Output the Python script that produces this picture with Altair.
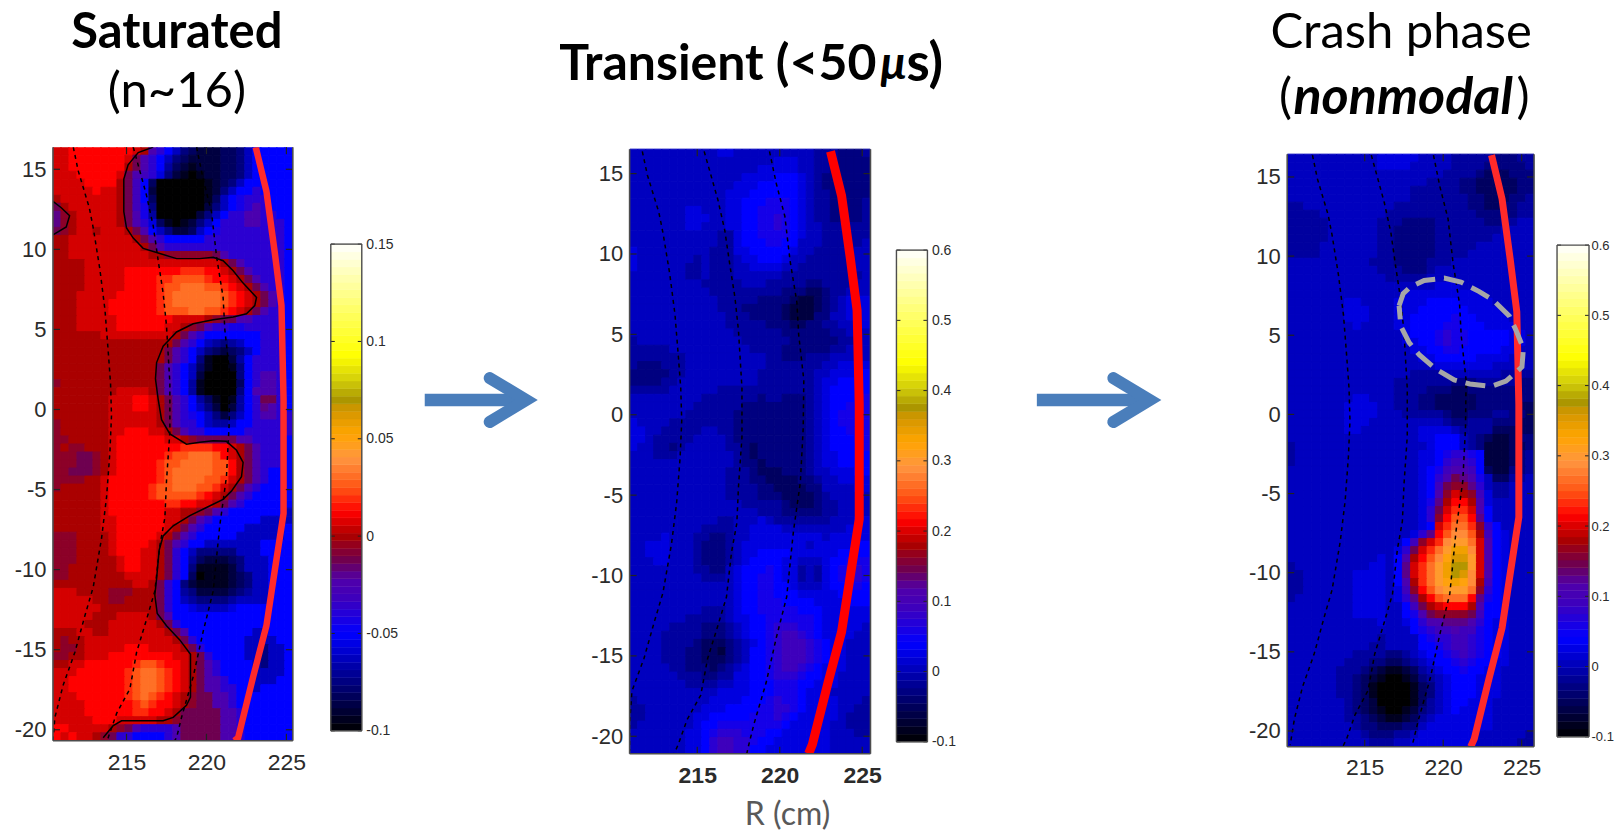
import altair as alt
import pandas as pd

# Colour-map stops (fraction of the colour bar) and their colours
CMAP_STOPS = [0, .2, .27, .31, .35, .40, .45, .50, .56, .61, .66, .68, .72, .77, .89, .98, 1]
CMAP_COLORS = ["#000000", "#0000ff", "#3c00be", "#5000aa", "#6e0050", "#aa0000", "#ff0000", "#ff5514", "#ff9640",
               "#ffa500", "#d29600", "#aa9600", "#d2cd0a", "#ffff00", "#ffff82", "#ffffe6", "#ffffff"]
BAR_LEVELS = 64

# Heat maps: one base-36 digit per cell = colour-bar level in 1/40ths, top row first, left column first
SATURATED = """
hhiiii iiiihg ca8643 222334 688888
hhiiii iiihec a86432 222334 688888
hhiiii iiigec a85321 222334 688888
hhhiii iihecb a74210 122334 688888
hhhhii iigeb8 300000 012346 888888
hhhhhi hhgeb8 200000 012468 8a8888
ghhhhh hhgeb8 300000 013689 aaa888
eghhhh hhgeb9 400000 024689 aca888
dfghhh hhgec9 500000 2468aa ccaa88
dfghhh hhgeca 731012 468aaa ccaaa8
efghhg hhhgec 864223 689aaa aaaaa8
gghhhh hhhhge ca8888 8aaaaa aaaaa8
gghhhh hhhhhg ecaaaa aaaaaa aaaaa8
gghhhh hhhhhh ggffff ffecaa aaaaa8
gggghh hhhhhh hhhhhh hhhgec aaaaa8
gggghh hhhiii iiiijj jiihge caaaa8
gggghh hhhiii ijjkkk kjiihg ecaaa8
gggghh hhhiii ijkkll lkkjih gecaa8
ggghhh hhiiii ijklll lllkji hgeca8
ggghhh hiiiii ijklll lllkji hgeca8
ggghhh hiiiii ijkkkl lkkjih gecaa8
ggghhh hhiiii iiihhh hgfeec caaaa8
ggghhh hhiiii iihhgf ecaa99 aaaaa8
gggggg hhhhhh hhhgec a88888 88aaa8
gggggg gggggg gggeca 865456 88aaa8
gggggg gggggg ggeca8 643234 68aaa8
gggggg gggggg ggeca8 410025 8aaaa8
gggggg gggggg geca86 310014 8aaaa8
gggggg gggggg geca86 200004 8acca8
fggggg gggggg geca85 100003 8acca8
gggggg gghhhh geca85 100004 8ccca8
gggggg ghhhii hgeca8 531015 8aeea8
gggggg ghhhii hgeca8 642025 8adca8
gggggg ghhhhh hgeca9 864246 8accaa
fggggg ghhhhh hgecaa 865568 8aaaaa
fggggg ghhiii hhgeca a88888 aaaaaa
ffgggg ghiiii iihhgf eeeeec caaaa8
fgffgg ghiiii iiiijj jjiihg ecaaa8
fffeef ghiiii iijkkl llkihg ecaaa8
fffeef ghiiii ijkkll llkkig ecaaa8
ffeeef ghiiii ijklll llkkig eca888
ffffgg hiiiii ijklll lkkjhg eca888
fggggg hiiiii jkklll kkjhge ca8888
gggggg hiiiii jkkkkk jihgec a88888
gggggg hiiiii iijjii hhgeca 888888
gggggg hiiiii iihhgg feca88 888886
gggggg hhiiii iihhge ca8888 886666
gggggg hhiiii iihgec a88888 666668
fffggg ghiiii ihgeca 888886 666668
fffggg ghiiii hgeca8 866666 668888
fffggg ghiiih hgea86 444446 668888
fffggg gghiih hgea85 322234 666888
ffgggg gghiih hgea84 111124 666888
ffgggg ggghhh hgea83 011123 466888
gggggg gggghh gea842 111123 466888
hhhggg gfffgg gea854 222234 566888
hhhhhg gffggg gea865 444456 666888
hhhhhh gggggg gea887 666678 888888
hhhhhg gghhhh gec888 888888 888888
hhhhgg ghhhhh hgea88 888888 888888
ggghhg ghhhhh hhgec8 888888 866888
gfgghh hhhhhh hhhgea 888888 666688
gffghh hhhiii hhhhge a88888 664668
ffgghh hiiiii iiihhg ea8888 664668
gghhii iiiijk kjiihg eca888 864668
hhhiii iiijkl lkjihg eca888 866668
hhiiii iiijkl lkjihg ecca88 866688
hhiiii iiijkl lkjihg eccaa8 868888
hhhiii iiijkl kjihgf eecca8 888888
hhhhii iiiijk jiihgf eecca8 888888
hhhhii iiiijj iihgee eeecca 888888
hhhhhi iihhhh hggfee eeecca 888888
iihhhh hgfeca aaacee eeecca 888888
ihihhg feaa88 88acee eeecca 888888
"""

TRANSIENT = """
666666 666667 766666 666665 554445
666666 666666 666666 777665 554444
666666 666666 666677 777665 544444
666666 666666 667777 888765 444444
666666 666666 677788 888765 444444
666666 666666 777888 888765 544444
666666 666666 778889 998765 544445
666666 677666 778899 998765 544445
666666 677766 778899 a98765 544445
666666 677666 778899 a98766 555555
666666 666665 578899 998766 555555
666666 666665 578889 988666 555556
766666 666655 577888 887665 555566
766666 665655 567788 876655 555566
766666 655655 566777 766555 555566
666666 655655 566666 655555 555556
666666 666555 556665 555544 555566
666666 666655 555555 544433 455666
666666 666665 555544 443223 456777
666666 666665 554444 432223 456777
666666 666666 555444 432224 466777
666666 666666 555554 443344 556677
666666 666666 655555 544444 455666
566666 666666 665555 554444 445566
555556 666666 666555 544444 455666
555555 566666 666665 544455 566666
544455 566666 666665 555555 667777
444445 566666 666655 555556 677788
444455 666666 666655 555556 778888
555556 666665 555555 555556 788888
666666 666555 555545 544456 788899
666666 665555 554444 444456 788999
666666 655555 544444 444456 789999
766665 555555 544444 444456 789999
776655 555665 544444 444456 788999
776555 556666 544444 444456 788899
766554 566666 554344 444456 788889
666555 666666 654344 444456 778888
666666 666666 654434 444456 778888
666666 666666 555433 344456 677788
666666 666666 555443 333445 667777
666666 666666 555544 333344 666677
666666 666666 555544 433334 566666
666666 666666 665555 543334 556666
666666 666666 666655 544444 556666
666666 666665 566676 555555 566677
666666 666555 566777 766666 666777
666676 665544 566777 777777 677777
667776 665444 567777 777767 777788
667776 665444 567788 887777 778888
666776 665444 567888 877666 788999
666666 665544 678889 877565 789aa9
666666 666555 678899 877565 789aa9
666666 666666 678899 887666 788998
666666 666666 678899 888777 778888
666666 666666 678899 988887 777888
666666 666555 678899 999888 777777
666666 655555 677889 999998 777777
666665 555444 567889 aaa998 777776
666655 555444 567889 abba98 777766
666655 554333 456789 abbba9 877666
666655 544332 456889 abbba9 877666
666655 544333 456889 abbba9 877666
666665 544434 567889 abba98 777666
666666 555445 577889 aaa988 776666
666666 655556 677888 999887 776666
666666 666667 777888 999877 766666
566666 666677 778889 a99877 776665
556666 666777 888899 aa9877 776655
556666 667788 888999 a98777 776555
566666 667889 999999 987777 766555
666666 67789a aa9998 877777 766655
666666 6778ab baa988 777777 766666
666666 6778ab baa887 777777 766666
"""

CRASH = """
666666 666667 777766 665555 544455
666666 666667 777666 665555 444445
666666 666666 666666 655554 333444
666666 666666 666665 555443 333344
666666 666666 666555 555443 333344
666666 666666 666555 555544 333445
556666 666666 655555 555544 334455
555566 666666 555555 555554 444455
555556 666665 554444 555555 445566
555556 666665 544444 555555 556666
555556 666665 544444 555555 566666
555566 666665 544444 555556 666666
555566 666665 544444 555566 666666
666666 666655 544445 556666 666666
666666 666665 554445 666666 666666
666666 666666 555556 666666 666666
666666 666666 666666 777666 666666
666666 666666 667777 777777 666666
666666 677666 677778 888777 766666
666666 677766 677788 888877 776666
666666 677766 677888 889887 777666
666666 667666 677888 899888 777766
666666 666666 667888 9a9988 888776
666666 666666 667788 9a9988 888776
666666 666666 666778 899888 887766
666666 666666 666677 888887 777666
666666 666666 666666 777777 766666
666666 666666 666555 566666 665555
666666 666666 655555 554445 555544
666666 666666 655554 443344 444444
666666 667766 655544 333334 444444
666666 677776 655544 333334 444433
666666 677776 665555 543344 455443
666666 677766 666666 654455 544433
666666 677666 666677 776555 533333
666666 666666 666677 888654 322344
566666 666666 666667 888654 222334
566666 666666 666677 89aa98 222345
566666 666666 666677 8abba8 222345
666666 666666 666678 9bccb8 322445
666666 666666 666678 acedc9 633556
666666 666666 666678 beffda 655666
666666 666666 666678 cfhgfb 755666
666666 666666 666679 dgiigc 766666
666666 666666 66667a ehjjhc 866666
666666 666666 66667a fikkid 866666
666666 666666 666678 hjlljf a86666
666666 666666 6667ad ikmmkg b87666
666666 666666 668bfh jmnnlh c87666
666666 666666 67aehj lnppmh c87666
666666 666667 68cgik moqqnh c87666
566666 666677 68dhjl nprrnh c87666
556666 667777 68dhjl nprqmh c87666
556666 667777 68cgjl nopomg b87666
556666 667777 67bfik mnnnlf a87666
566666 667777 67adgi klllid 987666
666666 667777 668beg hiiigc 887666
666666 667777 6689ce ffffeb 887666
666666 666667 6678ac cdddca 877666
666666 666666 66689a bbcbb9 877666
666666 666665 666689 aabba9 877666
666666 666655 666688 9abba9 877666
666666 665555 445678 89aba9 887666
666666 655544 334567 889a98 877666
666666 555432 112356 788988 776666
666666 554321 001245 678887 776666
666666 554310 000134 678887 776666
666666 554310 000134 678887 776666
666666 654320 000135 678877 766666
666666 654321 001245 678777 766666
666666 655432 112356 777777 766666
666666 665443 334467 777777 766666
666666 666544 455677 777776 666665
666666 666655 566777 777776 666655
"""

# Flux surfaces and separatrix (R cm, Z cm)
SURF_A_X = [211.67, 211.98, 212.4, 212.67, 212.92, 213.33, 213.65, 213.85, 214.0, 214.06, 213.96, 213.75, 213.44, 212.92, 212.4, 211.77, 211.04, 210.52, 210.25]
SURF_A_Y = [16.38, 14.9, 13.5, 12.6, 11.33, 8.78, 6.24, 3.69, 1.65, -0.38, -2.68, -5.48, -8.03, -11.08, -12.87, -15.16, -17.2, -19.23, -20.9]
SURF_B_X = [215.42, 215.83, 216.25, 216.67, 216.98, 217.29, 217.5, 217.71, 217.71, 217.5, 217.4, 217.08, 216.77, 216.25, 215.63, 215.21, 214.38, 213.85, 213.6]
SURF_B_Y = [16.38, 14.9, 13.37, 11.46, 9.29, 7.26, 5.22, 1.65, -1.4, -4.46, -6.75, -8.53, -11.34, -13.12, -15.16, -17.45, -18.98, -20.5, -21.1]
SURF_C_X = [219.38, 219.79, 220.31, 220.63, 221.04, 221.15, 221.46, 221.42, 221.25, 220.83, 220.42, 219.79, 219.17, 218.44, 218.13, 218.0]
SURF_C_Y = [16.38, 14.39, 12.35, 9.55, 7.0, 4.96, 2.16, -0.89, -4.2, -7.26, -11.34, -13.88, -16.69, -19.23, -20.5, -21.1]
SEP_X = [223.08, 223.75, 224.27, 224.69, 224.82, 224.82, 224.27, 223.75, 222.92, 221.98, 221.75]
SEP_Y = [16.38, 13.62, 9.8, 6.49, 0.63, -6.5, -10.06, -13.5, -16.69, -20.5, -21.1]

# Zero contours of the saturated panel
CONT_X = [216.67, 215.73, 215.1, 214.83, 214.83, 215, 215.42, 216.04, 216.88, 218.13, 219.58, 220.42, 221.04, 221.67, 222.29, 223.13, 223.02, 222.5, 221.67, 220.42, 219.17, 218.13, 217.29, 216.88, 216.81, 216.98, 217.19, 217.71, 218.75, 219.58, 220.42, 221.25, 221.88, 222.29, 222.19, 221.56, 221.04, 220, 218.96, 217.92, 217.29, 217.04, 216.88, 216.77, 216.92, 217.5, 218.33, 219, 219, 218.75, 217.92, 217.29, 214.69, 214.17, 213.54]
CONT_Y = [16.38, 16.04, 15.28, 14.39, 12.35, 11.33, 10.7, 10.06, 9.8, 9.42, 9.42, 9.5, 9.29, 8.66, 7.89, 7.0, 6.49, 5.98, 5.78, 5.6, 5.35, 4.84, 3.95, 2.93, 1.91, 0.63, -0.64, -1.53, -2.17, -2.04, -1.96, -1.99, -2.55, -3.31, -4.2, -5.1, -5.61, -6.12, -6.63, -7.26, -7.9, -8.79, -10.57, -11.59, -12.74, -13.5, -14.39, -15.29, -17.96, -18.47, -19.23, -19.44, -19.44, -19.74, -20.5]
SPOT_X = [210.4, 210.92, 211.44, 211.23, 210.4]
SPOT_Y = [13.0, 12.6, 12.1, 11.4, 10.9]

# Dashed ellipse of the crash panel
ELL_X = [217.19, 217.45, 217.87, 218.79, 220.06, 221.13, 222.3, 223.15, 224.21, 224.64, 225.11, 225.02, 224, 223.04, 221.7, 220.7, 219.53, 218.47, 217.83, 217.3, 217.19]
ELL_Y = [6.86, 7.63, 8.02, 8.46, 8.61, 8.36, 7.76, 7.25, 6.22, 5.32, 4.16, 3.0, 2.1, 1.76, 1.92, 2.18, 2.87, 3.77, 4.54, 5.57, 6.86]

X_TICKS = [215, 220, 225]
Y_TICKS = [-20, -15, -10, -5, 0, 5, 10, 15]
BAR1_TICKS = [-0.1, -0.05, 0, 0.05, 0.1, 0.15]
BAR2_TICKS = [-0.1, 0, 0.1, 0.2, 0.3, 0.4, 0.5, 0.6]
ARROW1 = dict(x0=63, tip=164.5, barb=128)
ARROW2 = dict(x0=109.5, tip=222.5, barb=186)

LABEL_FONT = "Liberation Sans"
HEAD_FONT = "Lato"
TICK_COLOR = "#2b2b2b"
ONE = pd.DataFrame({"k": [0]})


def line(xs, ys, **mark):
    return pd.DataFrame({"x": xs, "y": ys, "o": range(len(xs))}), mark


def text(s, x, y, size=49, weight="normal", style="normal", align="center", color="#000000", font=HEAD_FONT):
    return alt.Chart(ONE).mark_text(text=s, font=font, fontSize=size, fontWeight=weight, fontStyle=style, align=align,
                                    baseline="middle", color=color).encode(x=alt.value(x), y=alt.value(y))


def color_scale(lo, hi):
    return alt.Scale(domain=[lo + (hi - lo) * s for s in CMAP_STOPS], range=CMAP_COLORS, interpolate="rgb")


def panel(rows, lo, hi, xd, yd, w, h, top, lpad, lines, extras=(), xweight="normal"):
    rows = [r.replace(" ", "") for r in rows.strip().split("\n")]
    nr, nc = len(rows), 30
    recs = []
    for i, r in enumerate(rows):
        r = r.ljust(nc, r[-1])[:nc]
        for j, c in enumerate(r):
            recs.append({"x0": xd[0] + (xd[1] - xd[0]) * j / nc, "x1": xd[0] + (xd[1] - xd[0]) * (j + 1) / nc,
                         "y0": yd[1] - (yd[1] - yd[0]) * i / nr, "y1": yd[1] - (yd[1] - yd[0]) * (i + 1) / nr,
                         "v": lo + (hi - lo) * int(c, 36) / 40})
    df = pd.DataFrame(recs)
    xs = alt.Scale(domain=list(xd), clamp=True, nice=False, zero=False)
    ys = alt.Scale(domain=list(yd), range=[h, top], clamp=True, nice=False, zero=False)
    cs = color_scale(lo, hi)
    ax_x = alt.Axis(values=X_TICKS, title=None, grid=False, domain=False, ticks=False, labelFont=LABEL_FONT, labelFontSize=23,
                    labelFontWeight=xweight, labelColor=TICK_COLOR, labelPadding=lpad, labelOverlap=False, labelFlush=False,
                    labelExpr="datum.value+''")
    ax_y = alt.Axis(values=Y_TICKS, title=None, grid=False, domain=False, ticks=False, labelFont=LABEL_FONT, labelFontSize=22,
                    labelColor=TICK_COLOR, labelPadding=7, labelOverlap=False, labelFlush=False, labelExpr="datum.value+''")
    base = alt.Chart(df).mark_rect(strokeWidth=1, clip=True).encode(
        x=alt.X("x0:Q", scale=xs, axis=ax_x), x2="x1:Q",
        y=alt.Y("y0:Q", scale=ys, axis=ax_y), y2="y1:Q",
        color=alt.Color("v:Q", scale=cs, legend=None), stroke=alt.Stroke("v:Q", scale=cs, legend=None))
    layers = [base]
    for d, m in lines:
        layers.append(alt.Chart(d).mark_line(clip=True, **m).encode(
            x=alt.X("x:Q", scale=xs, axis=ax_x), y=alt.Y("y:Q", scale=ys, axis=ax_y), order="o:Q"))
    xt = pd.DataFrame({"t": X_TICKS})
    yt = pd.DataFrame({"t": Y_TICKS})
    tick = dict(color="#222222", strokeWidth=1.2)
    layers += [
        alt.Chart(xt).mark_rule(**tick).encode(x=alt.X("t:Q", scale=xs, axis=ax_x), y=alt.value(h), y2=alt.value(h - 7)),
        alt.Chart(xt).mark_rule(**tick).encode(x=alt.X("t:Q", scale=xs, axis=ax_x), y=alt.value(top), y2=alt.value(top + 7)),
        alt.Chart(yt).mark_rule(**tick).encode(y=alt.Y("t:Q", scale=ys, axis=ax_y), x=alt.value(0), x2=alt.value(7)),
        alt.Chart(yt).mark_rule(**tick).encode(y=alt.Y("t:Q", scale=ys, axis=ax_y), x=alt.value(w), x2=alt.value(w - 7)),
    ]
    frame = dict(color="#4d4d4d", strokeWidth=1.6)
    layers += [
        alt.Chart(ONE).mark_rule(**frame).encode(x=alt.value(0), y=alt.value(top), y2=alt.value(h)),
        alt.Chart(ONE).mark_rule(**frame).encode(x=alt.value(w), y=alt.value(top), y2=alt.value(h)),
        alt.Chart(ONE).mark_rule(**frame).encode(x=alt.value(0), x2=alt.value(w), y=alt.value(h)),
    ]
    layers += list(extras)
    return alt.layer(*layers).resolve_scale(color="shared", stroke="shared").properties(width=w, height=h)


def colorbar(lo, hi, ticks, w, h, top, lsize=14, lpad=4):
    vals = [lo + (hi - lo) * k / BAR_LEVELS for k in range(BAR_LEVELS + 1)]
    df = pd.DataFrame({"y0": vals[:-1], "y1": vals[1:], "v": [a + (hi - lo) * 0.5 / BAR_LEVELS for a in vals[:-1]]})
    ys = alt.Scale(domain=[lo, hi], range=[h, top], nice=False, zero=False)
    cs = color_scale(lo, hi)
    ax = alt.Axis(orient="right", values=ticks, title=None, grid=False, domain=False, ticks=False, labelFont=LABEL_FONT,
                  labelFontSize=lsize, labelColor=TICK_COLOR, labelPadding=lpad, labelOverlap=False, labelFlush=False,
                  labelExpr="datum.value+''")
    bars = alt.Chart(df).mark_rect(strokeWidth=0.5).encode(
        x=alt.value(0), x2=alt.value(w), y=alt.Y("y0:Q", scale=ys, axis=ax), y2="y1:Q",
        color=alt.Color("v:Q", scale=cs, legend=None), stroke=alt.Stroke("v:Q", scale=cs, legend=None))
    td = pd.DataFrame({"t": ticks})
    tick = dict(color="#222222", strokeWidth=1)
    frame = dict(color="#4d4d4d", strokeWidth=1.4)
    return alt.layer(
        bars,
        alt.Chart(td).mark_rule(**tick).encode(y=alt.Y("t:Q", scale=ys, axis=ax), x=alt.value(0), x2=alt.value(4)),
        alt.Chart(td).mark_rule(**tick).encode(y=alt.Y("t:Q", scale=ys, axis=ax), x=alt.value(w), x2=alt.value(w - 4)),
        alt.Chart(ONE).mark_rule(**frame).encode(x=alt.value(0), y=alt.value(top), y2=alt.value(h)),
        alt.Chart(ONE).mark_rule(**frame).encode(x=alt.value(w), y=alt.value(top), y2=alt.value(h)),
        alt.Chart(ONE).mark_rule(**frame).encode(x=alt.value(0), x2=alt.value(w), y=alt.value(top)),
        alt.Chart(ONE).mark_rule(**frame).encode(x=alt.value(0), x2=alt.value(w), y=alt.value(h)),
    ).properties(width=w, height=h)


def arrow(cfg, w, h=594, level=253):
    xs = alt.Scale(domain=[0, w], nice=False, zero=False)
    ys = alt.Scale(domain=[h, 0], nice=False, zero=False)
    shaft = pd.DataFrame({"x": [cfg["x0"], cfg["tip"] - 6], "y": [level, level], "o": [0, 1]})
    head = pd.DataFrame({"x": [cfg["barb"], cfg["tip"], cfg["barb"]], "y": [level - 22, level, level + 22], "o": [0, 1, 2]})
    enc = dict(x=alt.X("x:Q", scale=xs, axis=None), y=alt.Y("y:Q", scale=ys, axis=None), order="o:Q")
    return alt.layer(
        alt.Chart(shaft).mark_line(color="#4a7ebb", strokeWidth=12.5, strokeCap="butt").encode(**enc),
        alt.Chart(head).mark_line(color="#4a7ebb", strokeWidth=12, strokeCap="round", strokeJoin="miter").encode(**enc),
    ).properties(width=w, height=h)


def spacer(w):
    return alt.Chart(ONE).mark_point(opacity=0).encode(x=alt.value(0), y=alt.value(0)).properties(width=w, height=10)


def common(red_w, red_color, dash_w=1.5):
    dash = dict(color="#000000", strokeWidth=dash_w, strokeDash=[4, 4])
    return [line(SEP_X, SEP_Y, color=red_color, strokeWidth=red_w), line(SURF_A_X, SURF_A_Y, **dash),
            line(SURF_B_X, SURF_B_Y, **dash), line(SURF_C_X, SURF_C_Y, **dash)]


bound = alt.Chart(ONE).mark_rule(color="#ffffff", opacity=0, strokeWidth=0.01).encode(
    x=alt.value(-45), x2=alt.value(-44), y=alt.value(-139))

p1 = panel(SATURATED, -0.1, 0.15, (210.4, 225.4), (-20.69, 16.38), 240, 594, 0, 11,
           [line(CONT_X, CONT_Y, color="#000000", strokeWidth=1.5), line(SPOT_X, SPOT_Y, color="#000000", strokeWidth=1.5)]
           + common(6.5, "#ff2a2a"),
           [bound, text("Saturated", 124, -114, weight="bold"), text("(n~16)", 124, -55)])

p2 = panel(TRANSIENT, -0.1, 0.6, (210.9, 225.5), (-21.09, 16.52), 241, 607, 2, 11, common(9, "#ff0000"),
           [text("Transient (<50", 247, -82, size=50, weight="bold", align="right"),
            text("\u03bc", 251, -82, size=46, weight="bold", style="italic", align="left"),
            text("s)", 277, -82, size=53, weight="bold", align="left"),
            text("R (cm)", 158, 668, size=32, color="#595959")], xweight="bold")

ell = line(ELL_X, ELL_Y, color="#a6a6a6", strokeWidth=5, strokeDash=[20, 9])
p3 = panel(CRASH, -0.1, 0.6, (210.06, 225.79), (-21.0, 16.44), 247, 600, 7, 10, common(7, "#ff2a2a") + [ell],
           [text("Crash phase", 114, -114),
            text("(", 5, -49, align="right"),
            text("nonmodal", 116, -49, size=52, weight="bold", style="italic"),
            text(")", 229.5, -49, align="left")])

chart = alt.hconcat(
    p1, spacer(38), colorbar(-0.1, 0.15, BAR1_TICKS, 31, 584, 97), arrow(ARROW1, 268),
    p2, spacer(26), colorbar(-0.1, 0.6, BAR2_TICKS, 31, 595, 103), arrow(ARROW2, 360),
    p3, spacer(23), colorbar(-0.1, 0.6, BAR2_TICKS, 32, 590, 98, lsize=13, lpad=2),
    spacing=0, bounds="flush", padding=0, background="#ffffff",
).resolve_scale(color="independent", stroke="independent").configure_view(strokeWidth=0)

chart.save("out.html", embed_options={"renderer": "svg", "actions": False})
